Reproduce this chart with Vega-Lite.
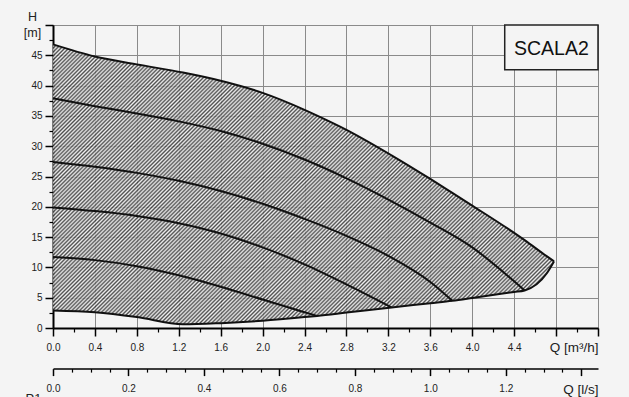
{
  "$schema": "https://vega.github.io/schema/vega-lite/v6.json",
  "width": 545,
  "height": 303,
  "autosize": {"type": "none"},
  "padding": {"left": 53, "top": 25, "right": 31, "bottom": 69},
  "background": "#f4f4f4",
  "config": {
    "font": "Liberation Sans",
    "view": {"stroke": "#222", "strokeWidth": 1},
    "axis": {
      "labelFont": "Liberation Sans",
      "labelFontSize": 10,
      "labelColor": "#222",
      "labelOverlap": false,
      "labelFlush": false,
      "tickColor": "#000",
      "domainColor": "#000",
      "titleFont": "Liberation Sans",
      "titleFontWeight": "normal",
      "titleColor": "#222",
      "gridColor": "#8a8a8a",
      "gridWidth": 1
    }
  },
  "datasets": {
    "env": [
      {"Q": 0, "Hmax": 46.8, "Hmin": 2.9},
      {"Q": 0.4, "Hmax": 44.8, "Hmin": 2.6},
      {"Q": 0.8, "Hmax": 43.5, "Hmin": 1.8},
      {"Q": 1.24, "Hmax": 42.15, "Hmin": 0.6},
      {"Q": 1.6, "Hmax": 40.8, "Hmin": 0.8},
      {"Q": 2.0, "Hmax": 38.8, "Hmin": 1.2},
      {"Q": 2.4, "Hmax": 36.0, "Hmin": 1.8},
      {"Q": 2.52, "Hmax": 35.05, "Hmin": 2.0},
      {"Q": 2.8, "Hmax": 32.7, "Hmin": 2.55},
      {"Q": 3.23, "Hmax": 28.5, "Hmin": 3.4},
      {"Q": 3.6, "Hmax": 24.6, "Hmin": 4.1},
      {"Q": 3.81, "Hmax": 22.3, "Hmin": 4.5},
      {"Q": 4.0, "Hmax": 20.2, "Hmin": 4.95},
      {"Q": 4.4, "Hmax": 15.7, "Hmin": 5.95},
      {"Q": 4.5, "Hmax": 14.5, "Hmin": 6.2},
      {"Q": 4.71, "Hmax": 11.85, "Hmin": 9.0},
      {"Q": 4.78, "Hmax": 11.0, "Hmin": 11.0}
    ],
    "curves": [
      {"c": "2", "Q": 0, "H": 37.9},
      {"c": "2", "Q": 0.4, "H": 36.6},
      {"c": "2", "Q": 0.8, "H": 35.4},
      {"c": "2", "Q": 1.2, "H": 34.1},
      {"c": "2", "Q": 1.6, "H": 32.5},
      {"c": "2", "Q": 2.0, "H": 30.4},
      {"c": "2", "Q": 2.4, "H": 27.8},
      {"c": "2", "Q": 2.8, "H": 24.7},
      {"c": "2", "Q": 3.2, "H": 21.2},
      {"c": "2", "Q": 3.6, "H": 17.4},
      {"c": "2", "Q": 4.0, "H": 13.3},
      {"c": "2", "Q": 4.4, "H": 7.7},
      {"c": "2", "Q": 4.5, "H": 6.2},
      {"c": "3", "Q": 0, "H": 27.4},
      {"c": "3", "Q": 0.4, "H": 26.6},
      {"c": "3", "Q": 0.8, "H": 25.6},
      {"c": "3", "Q": 1.2, "H": 24.3},
      {"c": "3", "Q": 1.6, "H": 22.6},
      {"c": "3", "Q": 2.0, "H": 20.5},
      {"c": "3", "Q": 2.4, "H": 18.0},
      {"c": "3", "Q": 2.8, "H": 15.2},
      {"c": "3", "Q": 3.2, "H": 11.9},
      {"c": "3", "Q": 3.6, "H": 7.6},
      {"c": "3", "Q": 3.81, "H": 4.5},
      {"c": "4", "Q": 0, "H": 19.9},
      {"c": "4", "Q": 0.4, "H": 19.3},
      {"c": "4", "Q": 0.8, "H": 18.5},
      {"c": "4", "Q": 1.2, "H": 17.3},
      {"c": "4", "Q": 1.6, "H": 15.6},
      {"c": "4", "Q": 2.0, "H": 13.3},
      {"c": "4", "Q": 2.4, "H": 10.5},
      {"c": "4", "Q": 2.8, "H": 7.2},
      {"c": "4", "Q": 3.23, "H": 3.4},
      {"c": "5", "Q": 0, "H": 11.7},
      {"c": "5", "Q": 0.4, "H": 11.2},
      {"c": "5", "Q": 0.8, "H": 10.2},
      {"c": "5", "Q": 1.2, "H": 8.7},
      {"c": "5", "Q": 1.6, "H": 6.8},
      {"c": "5", "Q": 2.0, "H": 4.7},
      {"c": "5", "Q": 2.4, "H": 2.6},
      {"c": "5", "Q": 2.52, "H": 2.0}
    ]
  },
  "layer": [
    {
      "data": {"name": "env"},
      "mark": {
        "type": "area",
        "interpolate": "monotone",
        "fillOpacity": 0.85,
        "fill": {
          "gradient": "linear",
          "x1": 0, "y1": 0, "x2": 1.18787, "y2": 0.66388,
          "stops": [
            {"offset":0.0,"color":"#333"},{"offset":0.0025,"color":"#eee"},{"offset":0.005,"color":"#333"},{"offset":0.0075,"color":"#eee"},{"offset":0.01,"color":"#333"},{"offset":0.0125,"color":"#eee"},{"offset":0.015,"color":"#333"},{"offset":0.0175,"color":"#eee"},
            {"offset":0.02,"color":"#333"},{"offset":0.0225,"color":"#eee"},{"offset":0.025,"color":"#333"},{"offset":0.0275,"color":"#eee"},{"offset":0.03,"color":"#333"},{"offset":0.0325,"color":"#eee"},{"offset":0.035,"color":"#333"},{"offset":0.0375,"color":"#eee"},
            {"offset":0.04,"color":"#333"},{"offset":0.0425,"color":"#eee"},{"offset":0.045,"color":"#333"},{"offset":0.0475,"color":"#eee"},{"offset":0.05,"color":"#333"},{"offset":0.0525,"color":"#eee"},{"offset":0.055,"color":"#333"},{"offset":0.0575,"color":"#eee"},
            {"offset":0.06,"color":"#333"},{"offset":0.0625,"color":"#eee"},{"offset":0.065,"color":"#333"},{"offset":0.0675,"color":"#eee"},{"offset":0.07,"color":"#333"},{"offset":0.0725,"color":"#eee"},{"offset":0.075,"color":"#333"},{"offset":0.0775,"color":"#eee"},
            {"offset":0.08,"color":"#333"},{"offset":0.0825,"color":"#eee"},{"offset":0.085,"color":"#333"},{"offset":0.0875,"color":"#eee"},{"offset":0.09,"color":"#333"},{"offset":0.0925,"color":"#eee"},{"offset":0.095,"color":"#333"},{"offset":0.0975,"color":"#eee"},
            {"offset":0.1,"color":"#333"},{"offset":0.1025,"color":"#eee"},{"offset":0.105,"color":"#333"},{"offset":0.1075,"color":"#eee"},{"offset":0.11,"color":"#333"},{"offset":0.1125,"color":"#eee"},{"offset":0.115,"color":"#333"},{"offset":0.1175,"color":"#eee"},
            {"offset":0.12,"color":"#333"},{"offset":0.1225,"color":"#eee"},{"offset":0.125,"color":"#333"},{"offset":0.1275,"color":"#eee"},{"offset":0.13,"color":"#333"},{"offset":0.1325,"color":"#eee"},{"offset":0.135,"color":"#333"},{"offset":0.1375,"color":"#eee"},
            {"offset":0.14,"color":"#333"},{"offset":0.1425,"color":"#eee"},{"offset":0.145,"color":"#333"},{"offset":0.1475,"color":"#eee"},{"offset":0.15,"color":"#333"},{"offset":0.1525,"color":"#eee"},{"offset":0.155,"color":"#333"},{"offset":0.1575,"color":"#eee"},
            {"offset":0.16,"color":"#333"},{"offset":0.1625,"color":"#eee"},{"offset":0.165,"color":"#333"},{"offset":0.1675,"color":"#eee"},{"offset":0.17,"color":"#333"},{"offset":0.1725,"color":"#eee"},{"offset":0.175,"color":"#333"},{"offset":0.1775,"color":"#eee"},
            {"offset":0.18,"color":"#333"},{"offset":0.1825,"color":"#eee"},{"offset":0.185,"color":"#333"},{"offset":0.1875,"color":"#eee"},{"offset":0.19,"color":"#333"},{"offset":0.1925,"color":"#eee"},{"offset":0.195,"color":"#333"},{"offset":0.1975,"color":"#eee"},
            {"offset":0.2,"color":"#333"},{"offset":0.2025,"color":"#eee"},{"offset":0.205,"color":"#333"},{"offset":0.2075,"color":"#eee"},{"offset":0.21,"color":"#333"},{"offset":0.2125,"color":"#eee"},{"offset":0.215,"color":"#333"},{"offset":0.2175,"color":"#eee"},
            {"offset":0.22,"color":"#333"},{"offset":0.2225,"color":"#eee"},{"offset":0.225,"color":"#333"},{"offset":0.2275,"color":"#eee"},{"offset":0.23,"color":"#333"},{"offset":0.2325,"color":"#eee"},{"offset":0.235,"color":"#333"},{"offset":0.2375,"color":"#eee"},
            {"offset":0.24,"color":"#333"},{"offset":0.2425,"color":"#eee"},{"offset":0.245,"color":"#333"},{"offset":0.2475,"color":"#eee"},{"offset":0.25,"color":"#333"},{"offset":0.2525,"color":"#eee"},{"offset":0.255,"color":"#333"},{"offset":0.2575,"color":"#eee"},
            {"offset":0.26,"color":"#333"},{"offset":0.2625,"color":"#eee"},{"offset":0.265,"color":"#333"},{"offset":0.2675,"color":"#eee"},{"offset":0.27,"color":"#333"},{"offset":0.2725,"color":"#eee"},{"offset":0.275,"color":"#333"},{"offset":0.2775,"color":"#eee"},
            {"offset":0.28,"color":"#333"},{"offset":0.2825,"color":"#eee"},{"offset":0.285,"color":"#333"},{"offset":0.2875,"color":"#eee"},{"offset":0.29,"color":"#333"},{"offset":0.2925,"color":"#eee"},{"offset":0.295,"color":"#333"},{"offset":0.2975,"color":"#eee"},
            {"offset":0.3,"color":"#333"},{"offset":0.3025,"color":"#eee"},{"offset":0.305,"color":"#333"},{"offset":0.3075,"color":"#eee"},{"offset":0.31,"color":"#333"},{"offset":0.3125,"color":"#eee"},{"offset":0.315,"color":"#333"},{"offset":0.3175,"color":"#eee"},
            {"offset":0.32,"color":"#333"},{"offset":0.3225,"color":"#eee"},{"offset":0.325,"color":"#333"},{"offset":0.3275,"color":"#eee"},{"offset":0.33,"color":"#333"},{"offset":0.3325,"color":"#eee"},{"offset":0.335,"color":"#333"},{"offset":0.3375,"color":"#eee"},
            {"offset":0.34,"color":"#333"},{"offset":0.3425,"color":"#eee"},{"offset":0.345,"color":"#333"},{"offset":0.3475,"color":"#eee"},{"offset":0.35,"color":"#333"},{"offset":0.3525,"color":"#eee"},{"offset":0.355,"color":"#333"},{"offset":0.3575,"color":"#eee"},
            {"offset":0.36,"color":"#333"},{"offset":0.3625,"color":"#eee"},{"offset":0.365,"color":"#333"},{"offset":0.3675,"color":"#eee"},{"offset":0.37,"color":"#333"},{"offset":0.3725,"color":"#eee"},{"offset":0.375,"color":"#333"},{"offset":0.3775,"color":"#eee"},
            {"offset":0.38,"color":"#333"},{"offset":0.3825,"color":"#eee"},{"offset":0.385,"color":"#333"},{"offset":0.3875,"color":"#eee"},{"offset":0.39,"color":"#333"},{"offset":0.3925,"color":"#eee"},{"offset":0.395,"color":"#333"},{"offset":0.3975,"color":"#eee"},
            {"offset":0.4,"color":"#333"},{"offset":0.4025,"color":"#eee"},{"offset":0.405,"color":"#333"},{"offset":0.4075,"color":"#eee"},{"offset":0.41,"color":"#333"},{"offset":0.4125,"color":"#eee"},{"offset":0.415,"color":"#333"},{"offset":0.4175,"color":"#eee"},
            {"offset":0.42,"color":"#333"},{"offset":0.4225,"color":"#eee"},{"offset":0.425,"color":"#333"},{"offset":0.4275,"color":"#eee"},{"offset":0.43,"color":"#333"},{"offset":0.4325,"color":"#eee"},{"offset":0.435,"color":"#333"},{"offset":0.4375,"color":"#eee"},
            {"offset":0.44,"color":"#333"},{"offset":0.4425,"color":"#eee"},{"offset":0.445,"color":"#333"},{"offset":0.4475,"color":"#eee"},{"offset":0.45,"color":"#333"},{"offset":0.4525,"color":"#eee"},{"offset":0.455,"color":"#333"},{"offset":0.4575,"color":"#eee"},
            {"offset":0.46,"color":"#333"},{"offset":0.4625,"color":"#eee"},{"offset":0.465,"color":"#333"},{"offset":0.4675,"color":"#eee"},{"offset":0.47,"color":"#333"},{"offset":0.4725,"color":"#eee"},{"offset":0.475,"color":"#333"},{"offset":0.4775,"color":"#eee"},
            {"offset":0.48,"color":"#333"},{"offset":0.4825,"color":"#eee"},{"offset":0.485,"color":"#333"},{"offset":0.4875,"color":"#eee"},{"offset":0.49,"color":"#333"},{"offset":0.4925,"color":"#eee"},{"offset":0.495,"color":"#333"},{"offset":0.4975,"color":"#eee"},
            {"offset":0.5,"color":"#333"},{"offset":0.5025,"color":"#eee"},{"offset":0.505,"color":"#333"},{"offset":0.5075,"color":"#eee"},{"offset":0.51,"color":"#333"},{"offset":0.5125,"color":"#eee"},{"offset":0.515,"color":"#333"},{"offset":0.5175,"color":"#eee"},
            {"offset":0.52,"color":"#333"},{"offset":0.5225,"color":"#eee"},{"offset":0.525,"color":"#333"},{"offset":0.5275,"color":"#eee"},{"offset":0.53,"color":"#333"},{"offset":0.5325,"color":"#eee"},{"offset":0.535,"color":"#333"},{"offset":0.5375,"color":"#eee"},
            {"offset":0.54,"color":"#333"},{"offset":0.5425,"color":"#eee"},{"offset":0.545,"color":"#333"},{"offset":0.5475,"color":"#eee"},{"offset":0.55,"color":"#333"},{"offset":0.5525,"color":"#eee"},{"offset":0.555,"color":"#333"},{"offset":0.5575,"color":"#eee"},
            {"offset":0.56,"color":"#333"},{"offset":0.5625,"color":"#eee"},{"offset":0.565,"color":"#333"},{"offset":0.5675,"color":"#eee"},{"offset":0.57,"color":"#333"},{"offset":0.5725,"color":"#eee"},{"offset":0.575,"color":"#333"},{"offset":0.5775,"color":"#eee"},
            {"offset":0.58,"color":"#333"},{"offset":0.5825,"color":"#eee"},{"offset":0.585,"color":"#333"},{"offset":0.5875,"color":"#eee"},{"offset":0.59,"color":"#333"},{"offset":0.5925,"color":"#eee"},{"offset":0.595,"color":"#333"},{"offset":0.5975,"color":"#eee"},
            {"offset":0.6,"color":"#333"},{"offset":0.6025,"color":"#eee"},{"offset":0.605,"color":"#333"},{"offset":0.6075,"color":"#eee"},{"offset":0.61,"color":"#333"},{"offset":0.6125,"color":"#eee"},{"offset":0.615,"color":"#333"},{"offset":0.6175,"color":"#eee"},
            {"offset":0.62,"color":"#333"},{"offset":0.6225,"color":"#eee"},{"offset":0.625,"color":"#333"},{"offset":0.6275,"color":"#eee"},{"offset":0.63,"color":"#333"},{"offset":0.6325,"color":"#eee"},{"offset":0.635,"color":"#333"},{"offset":0.6375,"color":"#eee"},
            {"offset":0.64,"color":"#333"},{"offset":0.6425,"color":"#eee"},{"offset":0.645,"color":"#333"},{"offset":0.6475,"color":"#eee"},{"offset":0.65,"color":"#333"},{"offset":0.6525,"color":"#eee"},{"offset":0.655,"color":"#333"},{"offset":0.6575,"color":"#eee"},
            {"offset":0.66,"color":"#333"},{"offset":0.6625,"color":"#eee"},{"offset":0.665,"color":"#333"},{"offset":0.6675,"color":"#eee"},{"offset":0.67,"color":"#333"},{"offset":0.6725,"color":"#eee"},{"offset":0.675,"color":"#333"},{"offset":0.6775,"color":"#eee"},
            {"offset":0.68,"color":"#333"},{"offset":0.6825,"color":"#eee"},{"offset":0.685,"color":"#333"},{"offset":0.6875,"color":"#eee"},{"offset":0.69,"color":"#333"},{"offset":0.6925,"color":"#eee"},{"offset":0.695,"color":"#333"},{"offset":0.6975,"color":"#eee"},
            {"offset":0.7,"color":"#333"},{"offset":0.7025,"color":"#eee"},{"offset":0.705,"color":"#333"},{"offset":0.7075,"color":"#eee"},{"offset":0.71,"color":"#333"},{"offset":0.7125,"color":"#eee"},{"offset":0.715,"color":"#333"},{"offset":0.7175,"color":"#eee"},
            {"offset":0.72,"color":"#333"},{"offset":0.7225,"color":"#eee"},{"offset":0.725,"color":"#333"},{"offset":0.7275,"color":"#eee"},{"offset":0.73,"color":"#333"},{"offset":0.7325,"color":"#eee"},{"offset":0.735,"color":"#333"},{"offset":0.7375,"color":"#eee"},
            {"offset":0.74,"color":"#333"},{"offset":0.7425,"color":"#eee"},{"offset":0.745,"color":"#333"},{"offset":0.7475,"color":"#eee"},{"offset":0.75,"color":"#333"},{"offset":0.7525,"color":"#eee"},{"offset":0.755,"color":"#333"},{"offset":0.7575,"color":"#eee"},
            {"offset":0.76,"color":"#333"},{"offset":0.7625,"color":"#eee"},{"offset":0.765,"color":"#333"},{"offset":0.7675,"color":"#eee"},{"offset":0.77,"color":"#333"},{"offset":0.7725,"color":"#eee"},{"offset":0.775,"color":"#333"},{"offset":0.7775,"color":"#eee"},
            {"offset":0.78,"color":"#333"},{"offset":0.7825,"color":"#eee"},{"offset":0.785,"color":"#333"},{"offset":0.7875,"color":"#eee"},{"offset":0.79,"color":"#333"},{"offset":0.7925,"color":"#eee"},{"offset":0.795,"color":"#333"},{"offset":0.7975,"color":"#eee"},
            {"offset":0.8,"color":"#333"},{"offset":0.8025,"color":"#eee"},{"offset":0.805,"color":"#333"},{"offset":0.8075,"color":"#eee"},{"offset":0.81,"color":"#333"},{"offset":0.8125,"color":"#eee"},{"offset":0.815,"color":"#333"},{"offset":0.8175,"color":"#eee"},
            {"offset":0.82,"color":"#333"},{"offset":0.8225,"color":"#eee"},{"offset":0.825,"color":"#333"},{"offset":0.8275,"color":"#eee"},{"offset":0.83,"color":"#333"},{"offset":0.8325,"color":"#eee"},{"offset":0.835,"color":"#333"},{"offset":0.8375,"color":"#eee"},
            {"offset":0.84,"color":"#333"},{"offset":0.8425,"color":"#eee"},{"offset":0.845,"color":"#333"},{"offset":0.8475,"color":"#eee"},{"offset":0.85,"color":"#333"},{"offset":0.8525,"color":"#eee"},{"offset":0.855,"color":"#333"},{"offset":0.8575,"color":"#eee"},
            {"offset":0.86,"color":"#333"},{"offset":0.8625,"color":"#eee"},{"offset":0.865,"color":"#333"},{"offset":0.8675,"color":"#eee"},{"offset":0.87,"color":"#333"},{"offset":0.8725,"color":"#eee"},{"offset":0.875,"color":"#333"},{"offset":0.8775,"color":"#eee"},
            {"offset":0.88,"color":"#333"},{"offset":0.8825,"color":"#eee"},{"offset":0.885,"color":"#333"},{"offset":0.8875,"color":"#eee"},{"offset":0.89,"color":"#333"},{"offset":0.8925,"color":"#eee"},{"offset":0.895,"color":"#333"},{"offset":0.8975,"color":"#eee"},
            {"offset":0.9,"color":"#333"},{"offset":0.9025,"color":"#eee"},{"offset":0.905,"color":"#333"},{"offset":0.9075,"color":"#eee"},{"offset":0.91,"color":"#333"},{"offset":0.9125,"color":"#eee"},{"offset":0.915,"color":"#333"},{"offset":0.9175,"color":"#eee"},
            {"offset":0.92,"color":"#333"},{"offset":0.9225,"color":"#eee"},{"offset":0.925,"color":"#333"},{"offset":0.9275,"color":"#eee"},{"offset":0.93,"color":"#333"},{"offset":0.9325,"color":"#eee"},{"offset":0.935,"color":"#333"},{"offset":0.9375,"color":"#eee"},
            {"offset":0.94,"color":"#333"},{"offset":0.9425,"color":"#eee"},{"offset":0.945,"color":"#333"},{"offset":0.9475,"color":"#eee"},{"offset":0.95,"color":"#333"},{"offset":0.9525,"color":"#eee"},{"offset":0.955,"color":"#333"},{"offset":0.9575,"color":"#eee"},
            {"offset":0.96,"color":"#333"},{"offset":0.9625,"color":"#eee"},{"offset":0.965,"color":"#333"},{"offset":0.9675,"color":"#eee"},{"offset":0.97,"color":"#333"},{"offset":0.9725,"color":"#eee"},{"offset":0.975,"color":"#333"},{"offset":0.9775,"color":"#eee"},
            {"offset":0.98,"color":"#333"},{"offset":0.9825,"color":"#eee"},{"offset":0.985,"color":"#333"},{"offset":0.9875,"color":"#eee"},{"offset":0.99,"color":"#333"},{"offset":0.9925,"color":"#eee"},{"offset":0.995,"color":"#333"},{"offset":0.9975,"color":"#eee"},
            {"offset":1,"color":"#333"}
          ]
        }
      },
      "encoding": {
        "x": {
          "field": "Q", "type": "quantitative",
          "scale": {"domain": [0, 5.2], "nice": false, "zero": false},
          "axis": {
            "orient": "bottom",
            "values": [0, 0.4, 0.8, 1.2, 1.6, 2.0, 2.4, 2.8, 3.2, 3.6, 4.0, 4.4, 4.8, 5.2],
            "format": ".1f",
            "labelExpr": "datum.value > 4.5 ? '' : datum.label",
            "grid": true,
            "domainWidth": 2,
            "tickSize": 8,
            "tickWidth": 1.5,
            "labelPadding": 6.5,
            "title": "Q [m³/h]",
            "titleFontSize": 13.5,
            "titleAnchor": "end",
            "titleAlign": "right",
            "titleX": 545,
            "titleY": 23.5,
            "titleBaseline": "alphabetic"
          }
        },
        "y": {
          "field": "Hmax", "type": "quantitative",
          "scale": {"domain": [0, 50], "nice": false, "zero": false},
          "axis": {
            "orient": "left",
            "values": [0, 5, 10, 15, 20, 25, 30, 35, 40, 45, 50],
            "labelExpr": "datum.value > 47 ? '' : datum.label",
            "grid": true,
            "domainWidth": 2,
            "tickSize": 8,
            "tickWidth": 1.5,
            "labelPadding": 3,
            "title": ["H", "[m]"],
            "titleFontSize": 12.5,
            "titleAngle": 0,
            "titleAlign": "center",
            "titleBaseline": "top",
            "titleX": -21,
            "titleY": -15,
            "titleLineHeight": 16
          }
        },
        "y2": {"field": "Hmin"}
      }
    },
    {
      "data": {"name": "env"},
      "mark": {"type": "line", "interpolate": "monotone", "stroke": "#111", "strokeWidth": 2},
      "encoding": {
        "x": {"field": "Q", "type": "quantitative", "scale": {"domain": [0, 5.2], "nice": false, "zero": false}, "axis": null},
        "y": {"field": "Hmax", "type": "quantitative", "scale": {"domain": [0, 50], "nice": false, "zero": false}, "axis": null}
      }
    },
    {
      "data": {"name": "env"},
      "mark": {"type": "line", "interpolate": "monotone", "stroke": "#111", "strokeWidth": 2},
      "encoding": {
        "x": {"field": "Q", "type": "quantitative", "scale": {"domain": [0, 5.2], "nice": false, "zero": false}, "axis": null},
        "y": {"field": "Hmin", "type": "quantitative", "scale": {"domain": [0, 50], "nice": false, "zero": false}, "axis": null}
      }
    },
    {
      "data": {"name": "curves"},
      "mark": {"type": "line", "interpolate": "monotone", "stroke": "#111", "strokeWidth": 2},
      "encoding": {
        "x": {"field": "Q", "type": "quantitative", "scale": {"domain": [0, 5.2], "nice": false, "zero": false}, "axis": null},
        "y": {"field": "H", "type": "quantitative", "scale": {"domain": [0, 50], "nice": false, "zero": false}, "axis": null},
        "detail": {"field": "c", "type": "nominal"}
      }
    },
    {
      "data": {"values": [{}]},
      "mark": {"type": "rect", "fill": "#f4f4f4", "stroke": "#222", "strokeWidth": 1.5},
      "encoding": {
        "x": {"datum": 4.31, "type": "quantitative", "scale": {"domain": [0, 5.2], "nice": false, "zero": false}, "axis": null},
        "x2": {"datum": 5.2},
        "y": {"datum": 50, "type": "quantitative", "scale": {"domain": [0, 50], "nice": false, "zero": false}, "axis": null},
        "y2": {"datum": 42.6}
      }
    },
    {
      "data": {"values": [{}]},
      "mark": {"type": "text", "text": "SCALA2", "fontSize": 19.5, "font": "Liberation Sans", "color": "#111", "align": "center", "baseline": "middle"},
      "encoding": {
        "x": {"datum": 4.755, "type": "quantitative", "scale": {"domain": [0, 5.2], "nice": false, "zero": false}, "axis": null},
        "y": {"datum": 46.0, "type": "quantitative", "scale": {"domain": [0, 50], "nice": false, "zero": false}, "axis": null}
      }
    },
    {
      "data": {"values": [{}]},
      "mark": {"type": "text", "text": "P1", "fontSize": 13, "font": "Liberation Sans", "color": "#222", "align": "center", "baseline": "alphabetic"},
      "encoding": {
        "x": {"datum": -0.186, "type": "quantitative", "scale": {"domain": [0, 5.2], "nice": false, "zero": false}, "axis": null},
        "y": {"datum": -12.36, "type": "quantitative", "scale": {"domain": [0, 50], "nice": false, "zero": false}, "axis": null}
      }
    },
    {
      "mark": {"type": "rule", "opacity": 0},
      "encoding": {
        "x": {
          "datum": 0, "type": "quantitative",
          "scale": {"domain": [0, 5.2], "nice": false, "zero": false},
          "axis": {
            "orient": "bottom",
            "values": [0.2, 0.6, 1.0, 1.4, 1.8, 2.2, 2.6, 3.0, 3.4, 3.8, 4.2, 4.6, 5.0],
            "labels": false, "domain": false, "grid": false,
            "tickSize": 4, "tickWidth": 1.2, "title": null
          }
        }
      }
    },
    {
      "mark": {"type": "rule", "opacity": 0},
      "encoding": {
        "y": {
          "datum": 0, "type": "quantitative",
          "scale": {"domain": [0, 50], "nice": false, "zero": false},
          "axis": {
            "orient": "left",
            "values": [2.5, 7.5, 12.5, 17.5, 22.5, 27.5, 32.5, 37.5, 42.5, 47.5],
            "labels": false, "domain": false, "grid": false,
            "tickSize": 4, "tickWidth": 1.2, "title": null
          }
        }
      }
    },
    {
      "mark": {"type": "rule", "opacity": 0},
      "encoding": {
        "x": {
          "datum": 0, "type": "quantitative",
          "scale": {"domain": [0, 1.4444444], "nice": false, "zero": false},
          "axis": {
            "orient": "bottom",
            "offset": 40.6,
            "values": [0, 0.2, 0.4, 0.6, 0.8, 1.0, 1.2, 1.4],
            "format": ".1f",
            "labelExpr": "datum.value > 1.3 ? '' : datum.label",
            "grid": false,
            "domainWidth": 1.5,
            "tickSize": 7,
            "tickWidth": 1.5,
            "labelPadding": 7.5,
            "title": "Q [l/s]",
            "titleFontSize": 13.5,
            "titleAnchor": "end",
            "titleAlign": "right",
            "titleX": 545,
            "titleY": 25,
            "titleBaseline": "alphabetic"
          }
        }
      }
    },
    {
      "mark": {"type": "rule", "opacity": 0},
      "encoding": {
        "x": {
          "datum": 0, "type": "quantitative",
          "scale": {"domain": [0, 1.4444444], "nice": false, "zero": false},
          "axis": {
            "orient": "bottom",
            "offset": 40.6,
            "values": [0.05, 0.1, 0.15, 0.25, 0.3, 0.35, 0.45, 0.5, 0.55, 0.65, 0.7, 0.75, 0.85, 0.9, 0.95, 1.05, 1.1, 1.15, 1.25, 1.3, 1.35],
            "labels": false, "domain": false, "grid": false,
            "tickSize": 3.5, "tickWidth": 1.2, "title": null
          }
        }
      }
    }
  ],
  "resolve": {"scale": {"x": "independent", "y": "independent"}}
}
